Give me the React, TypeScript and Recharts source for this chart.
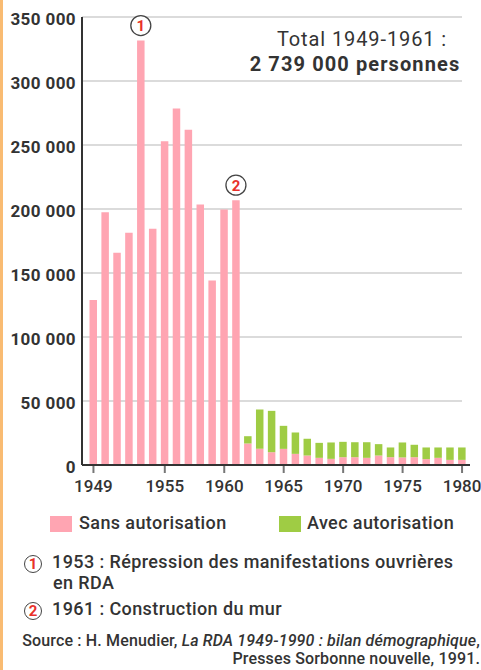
import React from 'react'
import { BarChart, Bar, XAxis, YAxis, CartesianGrid, LabelList } from 'recharts'

const years = [
  1949, 1950, 1951, 1952, 1953, 1954, 1955, 1956, 1957, 1958, 1959, 1960, 1961,
  1962, 1963, 1964, 1965, 1966, 1967, 1968, 1969, 1970, 1971, 1972, 1973, 1974,
  1975, 1976, 1977, 1978, 1979, 1980,
]
const sansAutorisation = [
  129000, 197500, 165800, 181400, 331600, 184500, 253000, 278500, 261900, 203500, 144100, 199600, 206900,
  16800, 12600, 10000, 12600, 8700, 7400, 5600, 4800, 6100, 6100, 5600, 7400, 6100,
  5900, 6100, 4600, 5600, 4000, 4000,
]
const avecAutorisation = [
  0, 0, 0, 0, 0, 0, 0, 0, 0, 0, 0, 0, 0,
  5700, 30800, 32300, 18000, 16700, 13100, 11700, 12800, 12000, 11700, 12200, 8900, 7600,
  11700, 9700, 9100, 8100, 9700, 9700,
]
const yTicks = [0, 50000, 100000, 150000, 200000, 250000, 300000, 350000]
const xLabels = [1949, 1955, 1960, 1965, 1970, 1975, 1980]
const markers = [
  { year: 1953, label: '1' },
  { year: 1961, label: '2' },
]

const data = years.map((year, i) => ({
  year,
  sans: sansAutorisation[i],
  avec: avecAutorisation[i],
}))

const PINK = '#FFA5B2'
const GREEN = '#9FCC44'
const TEXT = '#333'
const FONT = 'Roboto, "Noto Sans", sans-serif'

const fmtY = (v: number) => (v === 0 ? '0' : `${v / 1000} 000`)

const YTick = (props: any) => {
  const { x, y, payload } = props
  return (
    <text x={x} y={y + 8} textAnchor="end" fontSize={17} fontWeight={700} fill={TEXT} fontFamily={FONT} letterSpacing={0.4}>
      {fmtY(payload.value)}
    </text>
  )
}

const XTick = (props: any) => {
  const { x, y, payload } = props
  if (!xLabels.includes(payload.value)) return null
  return (
    <g>
      <line x1={x} x2={x} y1={y - 7} y2={y} stroke="#777" strokeWidth={2} />
      <text x={x} y={y + 19} textAnchor="middle" fontSize={17} fontWeight={500} fill={TEXT} fontFamily={FONT}>
        {payload.value}
      </text>
    </g>
  )
}

const Marker = (props: any) => {
  const { value } = props
  const m = markers.find((mk) => mk.year === value)
  if (!m) return null
  const vb = props.viewBox || props
  const x = vb.x ?? props.x
  const y = vb.y ?? props.y
  const w = vb.width ?? props.width
  const cx = x + w / 2
  const cy = y - 15
  return (
    <g>
      <circle cx={cx} cy={cy} r={10} fill="#fff" stroke="#444" strokeWidth={1.3} />
      <text x={cx} y={cy + 5.5} textAnchor="middle" fontSize={15} fontWeight={700} fill="#E8312A" fontFamily={FONT}>
        {m.label}
      </text>
    </g>
  )
}

const GridLine = (props: any) => (
  <line key={props.key} x1={props.x1} x2={props.x2 - 8} y1={props.y1} y2={props.y2} stroke="#cfcfcf" strokeWidth={1.5} />
)

const Circled = ({ n }: { n: string }) => (
  <span
    style={{
      display: 'inline-block',
      width: 16,
      height: 16,
      border: '1.4px solid #444',
      borderRadius: '50%',
      color: '#E8312A',
      fontSize: 15,
      fontWeight: 700,
      lineHeight: '16px',
      textAlign: 'center',
      letterSpacing: 0,
      marginRight: 10,
      verticalAlign: '-1px',
    }}
  >
    {n}
  </span>
)

const labelStyle: React.CSSProperties = { position: 'absolute', top: 512, fontSize: 18, fontWeight: 500, lineHeight: '22px', letterSpacing: 0.4 }

export default function App() {
  return (
    <div style={{ position: 'absolute', left: 0, top: 0, width: 481, height: 670, background: '#fff', fontFamily: FONT, color: TEXT, overflow: 'hidden' }}>
      <div style={{ position: 'absolute', left: 0, top: 0, width: 3, height: 670, background: '#F9BB72' }} />
      <div style={{ position: 'absolute', left: 0, top: 0 }}>
        <BarChart width={481} height={495} data={data} margin={{ top: 17, right: 11, left: 0, bottom: 0 }} barSize={7.5}>
          <CartesianGrid vertical={false} horizontal={GridLine} />
          <XAxis
            dataKey="year"
            interval={0}
            height={30}
            padding={{ left: 5.5, right: 2 }}
            tickLine={false}
            tickSize={6}
            tickMargin={2}
            axisLine={{ stroke: '#333', strokeWidth: 2 }}
            tick={XTick}
          />
          <YAxis
            width={82}
            domain={[0, 350000]}
            ticks={yTicks}
            interval={0}
            tickLine={false}
            tickSize={4}
            tickMargin={2}
            axisLine={{ stroke: '#333', strokeWidth: 2 }}
            tick={YTick}
          />
          <Bar dataKey="sans" stackId="a" fill={PINK} isAnimationActive={false}>
            <LabelList dataKey="year" content={Marker} />
          </Bar>
          <Bar dataKey="avec" stackId="a" fill={GREEN} isAnimationActive={false} />
        </BarChart>
      </div>

      <div style={{ position: 'absolute', left: 242, width: 240, top: 27, textAlign: 'center', fontSize: 20, lineHeight: '25px', letterSpacing: 0.9, fontWeight: 400 }}>
        Total 1949-1961 :
      </div>
      <div style={{ position: 'absolute', left: 235, width: 240, top: 52, textAlign: 'center', fontSize: 20, lineHeight: '25px', letterSpacing: 1.1, fontWeight: 700 }}>
        2 739 000 personnes
      </div>

      <div style={{ position: 'absolute', left: 50, top: 516, width: 22, height: 16, background: PINK }} />
      <div style={{ ...labelStyle, left: 79 }}>Sans autorisation</div>
      <div style={{ position: 'absolute', left: 279, top: 516, width: 22, height: 16, background: GREEN }} />
      <div style={{ ...labelStyle, left: 307 }}>Avec autorisation</div>

      <div style={{ position: 'absolute', left: 24, top: 552, width: 457, fontSize: 18, fontWeight: 500, lineHeight: '20px', letterSpacing: 0.4 }}>
        <div>
          <Circled n="1" />
          1953 : Répression des manifestations ouvrières
        </div>
        <div style={{ paddingLeft: 29 }}>en RDA</div>
        <div style={{ marginTop: 6 }}>
          <Circled n="2" />
          1961 : Construction du mur
        </div>
      </div>

      <div style={{ position: 'absolute', right: 1, top: 632, textAlign: 'right', fontSize: 16, fontWeight: 500, lineHeight: '18px', letterSpacing: 0.15 }}>
        <div>
          Source : H. Menudier, <i>La RDA 1949-1990 : bilan démographique</i>,
        </div>
        <div>Presses Sorbonne nouvelle, 1991.</div>
      </div>
    </div>
  )
}
